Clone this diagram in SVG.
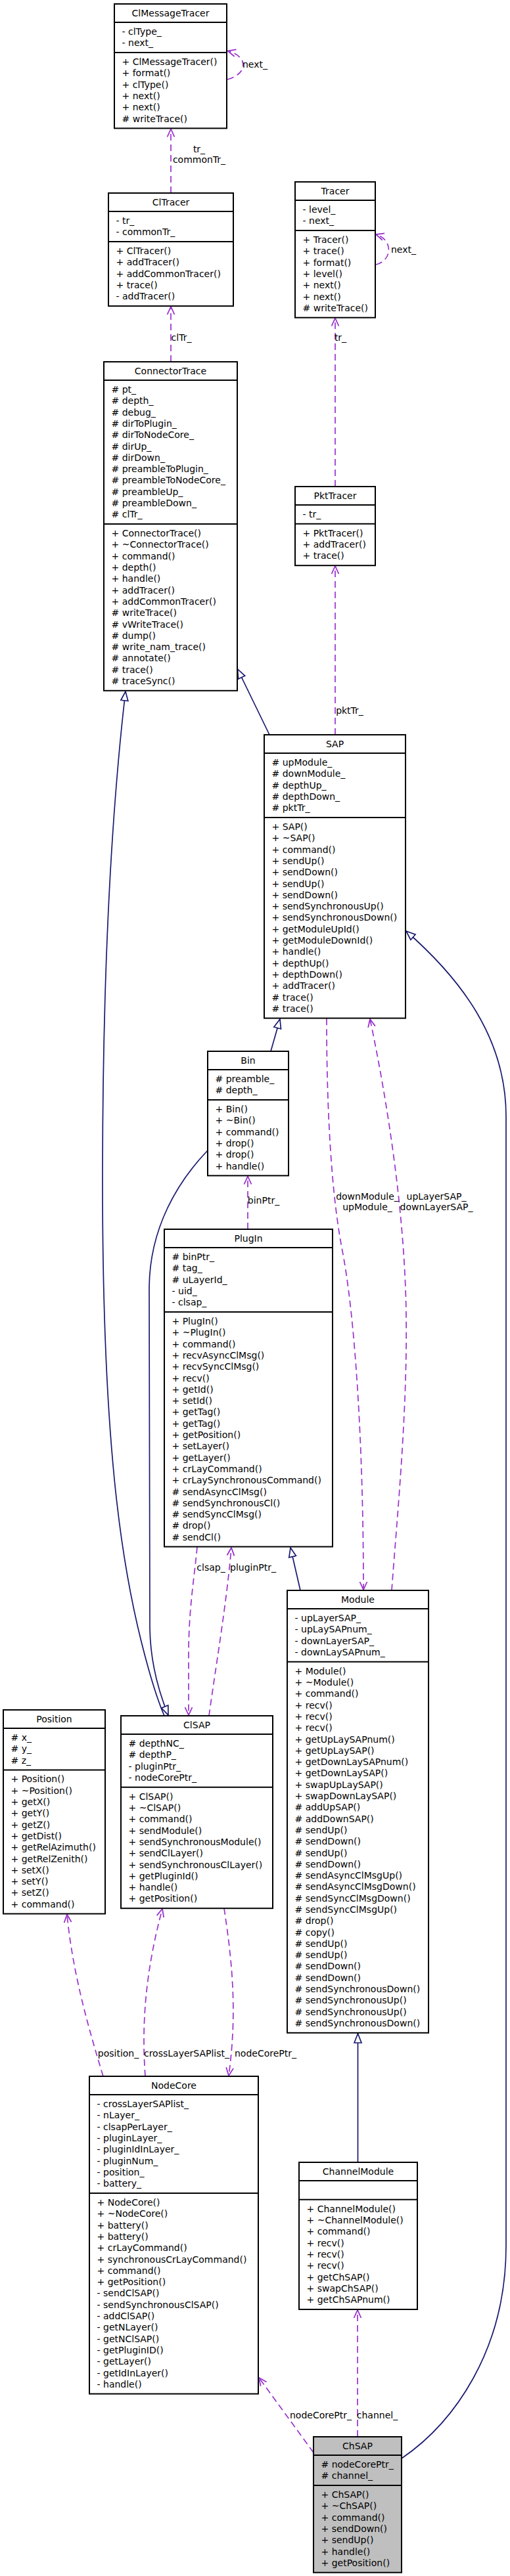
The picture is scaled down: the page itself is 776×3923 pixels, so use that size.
<svg xmlns="http://www.w3.org/2000/svg" width="776" height="3923" viewBox="0 0 776 3923">
<style>
text{font-family:"DejaVu Sans","Liberation Sans",sans-serif;font-size:14px;fill:#000}
.t{text-anchor:middle}
.lbl{text-anchor:middle}
.box{fill:#fff;stroke:#000;stroke-width:2}
.cur{fill:#bfbfbf;stroke:#000;stroke-width:2}
.sep{stroke:#000;stroke-width:2}
.dep{fill:none;stroke:#9a32cd;stroke-width:1.7;stroke-dasharray:10,6}
.inh{fill:none;stroke:#191970;stroke-width:1.7}
</style>
<defs>
<marker id="ao" viewBox="0 0 14 14" refX="13" refY="7" markerWidth="14" markerHeight="14" markerUnits="userSpaceOnUse" orient="auto"><path d="M1,1.5 L13,7 L1,12.5" fill="none" stroke="#9a32cd" stroke-width="1.8"/></marker>
<marker id="tri" viewBox="0 0 16 14" refX="15" refY="7" markerWidth="16" markerHeight="14" markerUnits="userSpaceOnUse" orient="auto"><path d="M1,1.5 L15,7 L1,12.5 Z" fill="#fff" stroke="#191970" stroke-width="1.7"/></marker>
</defs>

<g id="connectors">
<path class="dep" d="M260,294 L260,196.5" marker-end="url(#ao)"/>
<path class="dep" d="M260,551 L260,467" marker-end="url(#ao)"/>
<path class="dep" d="M510,741 L510,484.5" marker-end="url(#ao)"/>
<path class="dep" d="M510,1119 L510,862" marker-end="url(#ao)"/>
<path class="dep" d="M346,121 C378,112 378,86 346.5,77.5" marker-end="url(#ao)"/>
<path class="dep" d="M572,403 C598,396 598,365 572,357" marker-end="url(#ao)"/>
<path class="dep" d="M377,1872 L377,1791.5" marker-end="url(#ao)"/>
<path class="dep" d="M497,1551 C497,1700 505,1820 520,1900 C540,2000 553,2200 553,2421" marker-end="url(#ao)"/>
<path class="dep" d="M596,2422 C605,2300 620,2150 618,2000 C616,1850 590,1680 563,1552" marker-end="url(#ao)"/>
<path class="dep" d="M300,2356 C296,2400 287,2450 287,2520 L287,2612" marker-end="url(#ao)"/>
<path class="dep" d="M318,2613 C328,2540 345,2440 352,2357" marker-end="url(#ao)"/>
<path class="dep" d="M341,2906 C352,2980 362,3060 348,3161" marker-end="url(#ao)"/>
<path class="dep" d="M221,3162 C215,3080 222,3000 247,2907" marker-end="url(#ao)"/>
<path class="dep" d="M157,3162 C132,3080 110,3000 102,2915.5" marker-end="url(#ao)"/>
<path class="dep" d="M477,3735 L394,3621" marker-end="url(#ao)"/>
<path class="dep" d="M544,3711 L544,3518" marker-end="url(#ao)"/>

<path class="inh" d="M410,1119 L361.5,1019" marker-end="url(#tri)"/>
<path class="inh" d="M250,2613 C238,2585 225,2540 215,2500 C185,2380 156,2200 156,1800 C156,1500 168,1250 191,1053" marker-end="url(#tri)"/>
<path class="inh" d="M412,1601 L426,1552" marker-end="url(#tri)"/>
<path class="inh" d="M316,1752 C270,1800 228,1870 227,1960 L228,2480 C229,2540 245,2585 256,2612" marker-end="url(#tri)"/>
<path class="inh" d="M457,2422 L442,2357" marker-end="url(#tri)"/>
<path class="inh" d="M544.5,3293 L544.5,3097" marker-end="url(#tri)"/>
<path class="inh" d="M611,3744 C690,3690 770,3580 770,3420 L770,1700 C770,1580 700,1490 618,1418" marker-end="url(#tri)"/>

<text class="lbl" x="303" y="232">tr_</text>
<text class="lbl" x="303" y="248">commonTr_</text>
<text class="lbl" x="388" y="103">next_</text>
<text class="lbl" x="276" y="519">clTr_</text>
<text class="lbl" x="518" y="519">tr_</text>
<text class="lbl" x="614" y="385">next_</text>
<text class="lbl" x="532" y="1087">pktTr_</text>
<text class="lbl" x="401" y="1833">binPtr_</text>
<text class="lbl" x="559" y="1827">downModule_</text>
<text class="lbl" x="559" y="1843">upModule_</text>
<text class="lbl" x="664" y="1827">upLayerSAP_</text>
<text class="lbl" x="664" y="1843">downLayerSAP_</text>
<text class="lbl" x="321" y="2392">clsap_</text>
<text class="lbl" x="385" y="2392">pluginPtr_</text>
<text class="lbl" x="180" y="3132">position_</text>
<text class="lbl" x="284" y="3132">crossLayerSAPlist_</text>
<text class="lbl" x="404" y="3132">nodeCorePtr_</text>
<text class="lbl" x="488" y="3683">nodeCorePtr_</text>
<text class="lbl" x="574" y="3683">channel_</text>
</g>

<g id="ClMessageTracer">
<rect class="box" x="174" y="6" width="171" height="189.4"/>
<line class="sep" x1="174" y1="34" x2="345" y2="34"/>
<line class="sep" x1="174" y1="80.1" x2="345" y2="80.1"/>
<text class="t" x="259.5" y="25">ClMessageTracer</text>
<text x="185.5" y="53"><tspan x="185.5">- clType_</tspan><tspan x="185.5" dy="17.3">- next_</tspan></text>
<text x="185.5" y="99.1"><tspan x="185.5">+ ClMessageTracer()</tspan><tspan x="185.5" dy="17.3">+ format()</tspan><tspan x="185.5" dy="17.3">+ clType()</tspan><tspan x="185.5" dy="17.3">+ next()</tspan><tspan x="185.5" dy="17.3">+ next()</tspan><tspan x="185.5" dy="17.3"># writeTrace()</tspan></text>
</g>

<g id="ClTracer">
<rect class="box" x="165" y="294" width="190" height="172.1"/>
<line class="sep" x1="165" y1="322" x2="355" y2="322"/>
<line class="sep" x1="165" y1="368.1" x2="355" y2="368.1"/>
<text class="t" x="260" y="313">ClTracer</text>
<text x="176.5" y="341"><tspan x="176.5">- tr_</tspan><tspan x="176.5" dy="17.3">- commonTr_</tspan></text>
<text x="176.5" y="387.1"><tspan x="176.5">+ ClTracer()</tspan><tspan x="176.5" dy="17.3">+ addTracer()</tspan><tspan x="176.5" dy="17.3">+ addCommonTracer()</tspan><tspan x="176.5" dy="17.3">+ trace()</tspan><tspan x="176.5" dy="17.3">- addTracer()</tspan></text>
</g>

<g id="Tracer">
<rect class="box" x="449" y="277" width="122" height="206.7"/>
<line class="sep" x1="449" y1="305" x2="571" y2="305"/>
<line class="sep" x1="449" y1="351.1" x2="571" y2="351.1"/>
<text class="t" x="510" y="296">Tracer</text>
<text x="460.5" y="324"><tspan x="460.5">- level_</tspan><tspan x="460.5" dy="17.3">- next_</tspan></text>
<text x="460.5" y="370.1"><tspan x="460.5">+ Tracer()</tspan><tspan x="460.5" dy="17.3">+ trace()</tspan><tspan x="460.5" dy="17.3">+ format()</tspan><tspan x="460.5" dy="17.3">+ level()</tspan><tspan x="460.5" dy="17.3">+ next()</tspan><tspan x="460.5" dy="17.3">+ next()</tspan><tspan x="460.5" dy="17.3"># writeTrace()</tspan></text>
</g>

<g id="ConnectorTrace">
<rect class="box" x="158" y="551" width="203" height="500.8"/>
<line class="sep" x1="158" y1="579" x2="361" y2="579"/>
<line class="sep" x1="158" y1="798.1" x2="361" y2="798.1"/>
<text class="t" x="259.5" y="570">ConnectorTrace</text>
<text x="169.5" y="598"><tspan x="169.5"># pt_</tspan><tspan x="169.5" dy="17.3"># depth_</tspan><tspan x="169.5" dy="17.3"># debug_</tspan><tspan x="169.5" dy="17.3"># dirToPlugin_</tspan><tspan x="169.5" dy="17.3"># dirToNodeCore_</tspan><tspan x="169.5" dy="17.3"># dirUp_</tspan><tspan x="169.5" dy="17.3"># dirDown_</tspan><tspan x="169.5" dy="17.3"># preambleToPlugin_</tspan><tspan x="169.5" dy="17.3"># preambleToNodeCore_</tspan><tspan x="169.5" dy="17.3"># preambleUp_</tspan><tspan x="169.5" dy="17.3"># preambleDown_</tspan><tspan x="169.5" dy="17.3"># clTr_</tspan></text>
<text x="169.5" y="817.1"><tspan x="169.5">+ ConnectorTrace()</tspan><tspan x="169.5" dy="17.3">+ ~ConnectorTrace()</tspan><tspan x="169.5" dy="17.3">+ command()</tspan><tspan x="169.5" dy="17.3">+ depth()</tspan><tspan x="169.5" dy="17.3">+ handle()</tspan><tspan x="169.5" dy="17.3">+ addTracer()</tspan><tspan x="169.5" dy="17.3">+ addCommonTracer()</tspan><tspan x="169.5" dy="17.3"># writeTrace()</tspan><tspan x="169.5" dy="17.3"># vWriteTrace()</tspan><tspan x="169.5" dy="17.3"># dump()</tspan><tspan x="169.5" dy="17.3"># write_nam_trace()</tspan><tspan x="169.5" dy="17.3"># annotate()</tspan><tspan x="169.5" dy="17.3"># trace()</tspan><tspan x="169.5" dy="17.3"># traceSync()</tspan></text>
</g>

<g id="PktTracer">
<rect class="box" x="449" y="741" width="122" height="120.2"/>
<line class="sep" x1="449" y1="769" x2="571" y2="769"/>
<line class="sep" x1="449" y1="797.8" x2="571" y2="797.8"/>
<text class="t" x="510" y="760">PktTracer</text>
<text x="460.5" y="788">- tr_</text>
<text x="460.5" y="816.8"><tspan x="460.5">+ PktTracer()</tspan><tspan x="460.5" dy="17.3">+ addTracer()</tspan><tspan x="460.5" dy="17.3">+ trace()</tspan></text>
</g>

<g id="SAP">
<rect class="box" x="402" y="1119" width="215" height="431.6"/>
<line class="sep" x1="402" y1="1147" x2="617" y2="1147"/>
<line class="sep" x1="402" y1="1245" x2="617" y2="1245"/>
<text class="t" x="509.5" y="1138">SAP</text>
<text x="413.5" y="1166"><tspan x="413.5"># upModule_</tspan><tspan x="413.5" dy="17.3"># downModule_</tspan><tspan x="413.5" dy="17.3"># depthUp_</tspan><tspan x="413.5" dy="17.3"># depthDown_</tspan><tspan x="413.5" dy="17.3"># pktTr_</tspan></text>
<text x="413.5" y="1264"><tspan x="413.5">+ SAP()</tspan><tspan x="413.5" dy="17.3">+ ~SAP()</tspan><tspan x="413.5" dy="17.3">+ command()</tspan><tspan x="413.5" dy="17.3">+ sendUp()</tspan><tspan x="413.5" dy="17.3">+ sendDown()</tspan><tspan x="413.5" dy="17.3">+ sendUp()</tspan><tspan x="413.5" dy="17.3">+ sendDown()</tspan><tspan x="413.5" dy="17.3">+ sendSynchronousUp()</tspan><tspan x="413.5" dy="17.3">+ sendSynchronousDown()</tspan><tspan x="413.5" dy="17.3">+ getModuleUpId()</tspan><tspan x="413.5" dy="17.3">+ getModuleDownId()</tspan><tspan x="413.5" dy="17.3">+ handle()</tspan><tspan x="413.5" dy="17.3">+ depthUp()</tspan><tspan x="413.5" dy="17.3">+ depthDown()</tspan><tspan x="413.5" dy="17.3">+ addTracer()</tspan><tspan x="413.5" dy="17.3"># trace()</tspan><tspan x="413.5" dy="17.3"># trace()</tspan></text>
</g>

<g id="Bin">
<rect class="box" x="316" y="1601" width="123" height="189.4"/>
<line class="sep" x1="316" y1="1629" x2="439" y2="1629"/>
<line class="sep" x1="316" y1="1675.1" x2="439" y2="1675.1"/>
<text class="t" x="377.5" y="1620">Bin</text>
<text x="327.5" y="1648"><tspan x="327.5"># preamble_</tspan><tspan x="327.5" dy="17.3"># depth_</tspan></text>
<text x="327.5" y="1694.1"><tspan x="327.5">+ Bin()</tspan><tspan x="327.5" dy="17.3">+ ~Bin()</tspan><tspan x="327.5" dy="17.3">+ command()</tspan><tspan x="327.5" dy="17.3">+ drop()</tspan><tspan x="327.5" dy="17.3">+ drop()</tspan><tspan x="327.5" dy="17.3">+ handle()</tspan></text>
</g>

<g id="PlugIn">
<rect class="box" x="250" y="1872" width="256" height="483.5"/>
<line class="sep" x1="250" y1="1900" x2="506" y2="1900"/>
<line class="sep" x1="250" y1="1998" x2="506" y2="1998"/>
<text class="t" x="378" y="1891">PlugIn</text>
<text x="261.5" y="1919"><tspan x="261.5"># binPtr_</tspan><tspan x="261.5" dy="17.3"># tag_</tspan><tspan x="261.5" dy="17.3"># uLayerId_</tspan><tspan x="261.5" dy="17.3">- uid_</tspan><tspan x="261.5" dy="17.3">- clsap_</tspan></text>
<text x="261.5" y="2017"><tspan x="261.5">+ PlugIn()</tspan><tspan x="261.5" dy="17.3">+ ~PlugIn()</tspan><tspan x="261.5" dy="17.3">+ command()</tspan><tspan x="261.5" dy="17.3">+ recvAsyncClMsg()</tspan><tspan x="261.5" dy="17.3">+ recvSyncClMsg()</tspan><tspan x="261.5" dy="17.3">+ recv()</tspan><tspan x="261.5" dy="17.3">+ getId()</tspan><tspan x="261.5" dy="17.3">+ setId()</tspan><tspan x="261.5" dy="17.3">+ getTag()</tspan><tspan x="261.5" dy="17.3">+ getTag()</tspan><tspan x="261.5" dy="17.3">+ getPosition()</tspan><tspan x="261.5" dy="17.3">+ setLayer()</tspan><tspan x="261.5" dy="17.3">+ getLayer()</tspan><tspan x="261.5" dy="17.3">+ crLayCommand()</tspan><tspan x="261.5" dy="17.3">+ crLaySynchronousCommand()</tspan><tspan x="261.5" dy="17.3"># sendAsyncClMsg()</tspan><tspan x="261.5" dy="17.3"># sendSynchronousCl()</tspan><tspan x="261.5" dy="17.3"># sendSyncClMsg()</tspan><tspan x="261.5" dy="17.3"># drop()</tspan><tspan x="261.5" dy="17.3"># sendCl()</tspan></text>
</g>

<g id="Module">
<rect class="box" x="437" y="2422" width="215" height="673.8"/>
<line class="sep" x1="437" y1="2450" x2="652" y2="2450"/>
<line class="sep" x1="437" y1="2530.7" x2="652" y2="2530.7"/>
<text class="t" x="544.5" y="2441">Module</text>
<text x="448.5" y="2469"><tspan x="448.5">- upLayerSAP_</tspan><tspan x="448.5" dy="17.3">- upLaySAPnum_</tspan><tspan x="448.5" dy="17.3">- downLayerSAP_</tspan><tspan x="448.5" dy="17.3">- downLaySAPnum_</tspan></text>
<text x="448.5" y="2549.7"><tspan x="448.5">+ Module()</tspan><tspan x="448.5" dy="17.3">+ ~Module()</tspan><tspan x="448.5" dy="17.3">+ command()</tspan><tspan x="448.5" dy="17.3">+ recv()</tspan><tspan x="448.5" dy="17.3">+ recv()</tspan><tspan x="448.5" dy="17.3">+ recv()</tspan><tspan x="448.5" dy="17.3">+ getUpLaySAPnum()</tspan><tspan x="448.5" dy="17.3">+ getUpLaySAP()</tspan><tspan x="448.5" dy="17.3">+ getDownLaySAPnum()</tspan><tspan x="448.5" dy="17.3">+ getDownLaySAP()</tspan><tspan x="448.5" dy="17.3">+ swapUpLaySAP()</tspan><tspan x="448.5" dy="17.3">+ swapDownLaySAP()</tspan><tspan x="448.5" dy="17.3"># addUpSAP()</tspan><tspan x="448.5" dy="17.3"># addDownSAP()</tspan><tspan x="448.5" dy="17.3"># sendUp()</tspan><tspan x="448.5" dy="17.3"># sendDown()</tspan><tspan x="448.5" dy="17.3"># sendUp()</tspan><tspan x="448.5" dy="17.3"># sendDown()</tspan><tspan x="448.5" dy="17.3"># sendAsyncClMsgUp()</tspan><tspan x="448.5" dy="17.3"># sendAsyncClMsgDown()</tspan><tspan x="448.5" dy="17.3"># sendSyncClMsgDown()</tspan><tspan x="448.5" dy="17.3"># sendSyncClMsgUp()</tspan><tspan x="448.5" dy="17.3"># drop()</tspan><tspan x="448.5" dy="17.3"># copy()</tspan><tspan x="448.5" dy="17.3"># sendUp()</tspan><tspan x="448.5" dy="17.3"># sendUp()</tspan><tspan x="448.5" dy="17.3"># sendDown()</tspan><tspan x="448.5" dy="17.3"># sendDown()</tspan><tspan x="448.5" dy="17.3"># sendSynchronousDown()</tspan><tspan x="448.5" dy="17.3"># sendSynchronousUp()</tspan><tspan x="448.5" dy="17.3"># sendSynchronousUp()</tspan><tspan x="448.5" dy="17.3"># sendSynchronousDown()</tspan></text>
</g>

<g id="Position">
<rect class="box" x="5" y="2604" width="155" height="310.5"/>
<line class="sep" x1="5" y1="2632" x2="160" y2="2632"/>
<line class="sep" x1="5" y1="2695.4" x2="160" y2="2695.4"/>
<text class="t" x="82.5" y="2623">Position</text>
<text x="16.5" y="2651"><tspan x="16.5"># x_</tspan><tspan x="16.5" dy="17.3"># y_</tspan><tspan x="16.5" dy="17.3"># z_</tspan></text>
<text x="16.5" y="2714.4"><tspan x="16.5">+ Position()</tspan><tspan x="16.5" dy="17.3">+ ~Position()</tspan><tspan x="16.5" dy="17.3">+ getX()</tspan><tspan x="16.5" dy="17.3">+ getY()</tspan><tspan x="16.5" dy="17.3">+ getZ()</tspan><tspan x="16.5" dy="17.3">+ getDist()</tspan><tspan x="16.5" dy="17.3">+ getRelAzimuth()</tspan><tspan x="16.5" dy="17.3">+ getRelZenith()</tspan><tspan x="16.5" dy="17.3">+ setX()</tspan><tspan x="16.5" dy="17.3">+ setY()</tspan><tspan x="16.5" dy="17.3">+ setZ()</tspan><tspan x="16.5" dy="17.3">+ command()</tspan></text>
</g>

<g id="ClSAP">
<rect class="box" x="184" y="2613" width="231" height="293.2"/>
<line class="sep" x1="184" y1="2641" x2="415" y2="2641"/>
<line class="sep" x1="184" y1="2721.7" x2="415" y2="2721.7"/>
<text class="t" x="299.5" y="2632">ClSAP</text>
<text x="195.5" y="2660"><tspan x="195.5"># depthNC_</tspan><tspan x="195.5" dy="17.3"># depthP_</tspan><tspan x="195.5" dy="17.3">- pluginPtr_</tspan><tspan x="195.5" dy="17.3">- nodeCorePtr_</tspan></text>
<text x="195.5" y="2740.7"><tspan x="195.5">+ ClSAP()</tspan><tspan x="195.5" dy="17.3">+ ~ClSAP()</tspan><tspan x="195.5" dy="17.3">+ command()</tspan><tspan x="195.5" dy="17.3">+ sendModule()</tspan><tspan x="195.5" dy="17.3">+ sendSynchronousModule()</tspan><tspan x="195.5" dy="17.3">+ sendClLayer()</tspan><tspan x="195.5" dy="17.3">+ sendSynchronousClLayer()</tspan><tspan x="195.5" dy="17.3">+ getPluginId()</tspan><tspan x="195.5" dy="17.3">+ handle()</tspan><tspan x="195.5" dy="17.3">+ getPosition()</tspan></text>
</g>

<g id="NodeCore">
<rect class="box" x="136" y="3162" width="257" height="483.6"/>
<line class="sep" x1="136" y1="3190" x2="393" y2="3190"/>
<line class="sep" x1="136" y1="3340" x2="393" y2="3340"/>
<text class="t" x="264.5" y="3181">NodeCore</text>
<text x="147.5" y="3209"><tspan x="147.5">- crossLayerSAPlist_</tspan><tspan x="147.5" dy="17.3">- nLayer_</tspan><tspan x="147.5" dy="17.3">- clsapPerLayer_</tspan><tspan x="147.5" dy="17.3">- pluginLayer_</tspan><tspan x="147.5" dy="17.3">- pluginIdInLayer_</tspan><tspan x="147.5" dy="17.3">- pluginNum_</tspan><tspan x="147.5" dy="17.3">- position_</tspan><tspan x="147.5" dy="17.3">- battery_</tspan></text>
<text x="147.5" y="3359"><tspan x="147.5">+ NodeCore()</tspan><tspan x="147.5" dy="17.3">+ ~NodeCore()</tspan><tspan x="147.5" dy="17.3">+ battery()</tspan><tspan x="147.5" dy="17.3">+ battery()</tspan><tspan x="147.5" dy="17.3">+ crLayCommand()</tspan><tspan x="147.5" dy="17.3">+ synchronousCrLayCommand()</tspan><tspan x="147.5" dy="17.3">+ command()</tspan><tspan x="147.5" dy="17.3">+ getPosition()</tspan><tspan x="147.5" dy="17.3">- sendClSAP()</tspan><tspan x="147.5" dy="17.3">- sendSynchronousClSAP()</tspan><tspan x="147.5" dy="17.3">- addClSAP()</tspan><tspan x="147.5" dy="17.3">- getNLayer()</tspan><tspan x="147.5" dy="17.3">- getNClSAP()</tspan><tspan x="147.5" dy="17.3">- getPluginID()</tspan><tspan x="147.5" dy="17.3">- getLayer()</tspan><tspan x="147.5" dy="17.3">- getIdInLayer()</tspan><tspan x="147.5" dy="17.3">- handle()</tspan></text>
</g>

<g id="ChannelModule">
<rect class="box" x="455" y="3293" width="180" height="224"/>
<line class="sep" x1="455" y1="3321" x2="635" y2="3321"/>
<line class="sep" x1="455" y1="3349.8" x2="635" y2="3349.8"/>
<text class="t" x="545" y="3312">ChannelModule</text>
<text x="466.5" y="3368.8"><tspan x="466.5">+ ChannelModule()</tspan><tspan x="466.5" dy="17.3">+ ~ChannelModule()</tspan><tspan x="466.5" dy="17.3">+ command()</tspan><tspan x="466.5" dy="17.3">+ recv()</tspan><tspan x="466.5" dy="17.3">+ recv()</tspan><tspan x="466.5" dy="17.3">+ recv()</tspan><tspan x="466.5" dy="17.3">+ getChSAP()</tspan><tspan x="466.5" dy="17.3">+ swapChSAP()</tspan><tspan x="466.5" dy="17.3">+ getChSAPnum()</tspan></text>
</g>

<g id="ChSAP">
<rect class="cur" x="477" y="3711" width="134" height="206.7"/>
<line class="sep" x1="477" y1="3739" x2="611" y2="3739"/>
<line class="sep" x1="477" y1="3785.1" x2="611" y2="3785.1"/>
<text class="t" x="544" y="3730">ChSAP</text>
<text x="488.5" y="3758"><tspan x="488.5"># nodeCorePtr_</tspan><tspan x="488.5" dy="17.3"># channel_</tspan></text>
<text x="488.5" y="3804.1"><tspan x="488.5">+ ChSAP()</tspan><tspan x="488.5" dy="17.3">+ ~ChSAP()</tspan><tspan x="488.5" dy="17.3">+ command()</tspan><tspan x="488.5" dy="17.3">+ sendDown()</tspan><tspan x="488.5" dy="17.3">+ sendUp()</tspan><tspan x="488.5" dy="17.3">+ handle()</tspan><tspan x="488.5" dy="17.3">+ getPosition()</tspan></text>
</g>
</svg>
